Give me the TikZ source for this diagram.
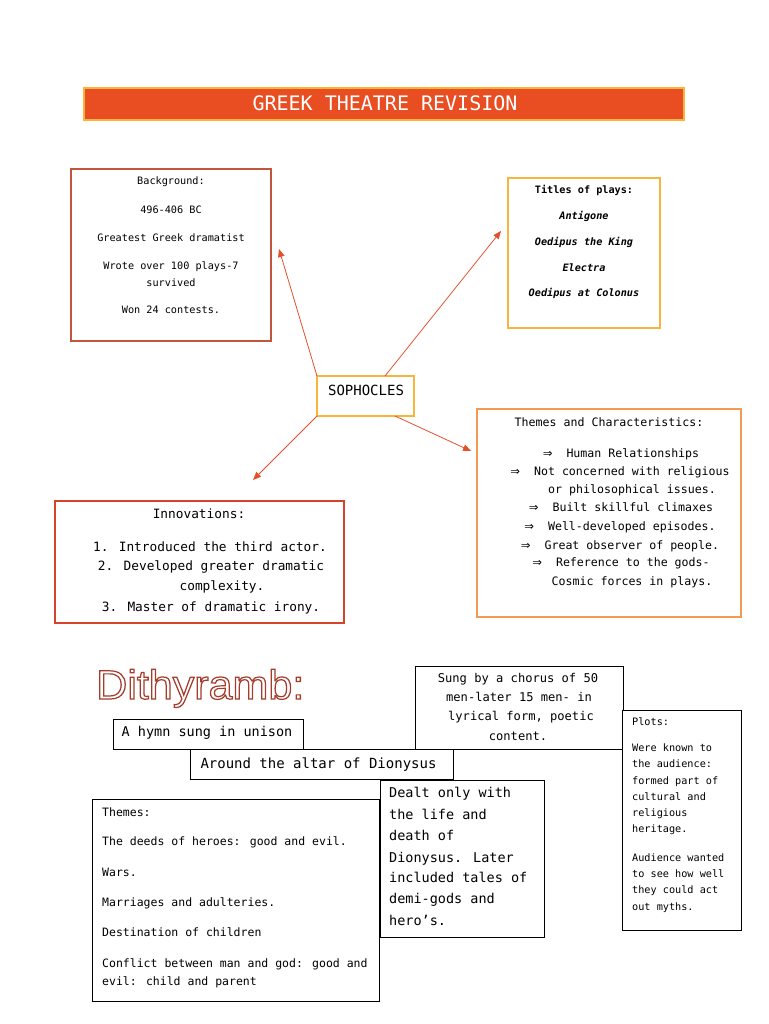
\documentclass[tikz,border=0pt]{standalone}
\usepackage{fontspec}
\setmainfont{DejaVu Sans Mono}
\newfontfamily\dithfont{Liberation Sans}
\newfontfamily\arrowfont{DejaVu Sans}
\usetikzlibrary{arrows.meta}
\definecolor{titlefill}{HTML}{E84E22}
\definecolor{titleborder}{HTML}{F9B338}
\definecolor{bgborder}{HTML}{C0563C}
\definecolor{yelborder}{HTML}{F7B53D}
\definecolor{themeborder}{HTML}{F59A52}
\definecolor{innovborder}{HTML}{D5432B}
\definecolor{arrowc}{HTML}{E5502C}
\definecolor{dithc}{HTML}{A43B2B}
\definecolor{ink}{HTML}{000000}
\newcommand\setfs[1]{\fontsize{#1}{#1}\selectfont}
\newcommand\dbl{{\arrowfont ⇒}}
\newcommand\outlinetext[1]{\special{pdf:literal direct 1 Tr 1.2 w}#1\special{pdf:literal direct 0 Tr}}
\begin{document}
\begin{tikzpicture}[x=1pt,y=-1pt,
  box/.style={draw, line width=1pt, fill=white, anchor=north west, inner sep=0pt, outer sep=0pt},
  tc/.style={anchor=base, inner sep=0pt, text=ink},
  tw/.style={anchor=base west, inner sep=0pt, text=ink},
  conn/.style={draw=arrowc, line width=0.75pt, -{Triangle[length=8pt,width=6.5pt]}, fill=arrowc}
]
\useasboundingbox (0,0) rectangle (768,1024);

% title
\node[box, draw=titleborder, fill=titlefill, line width=1.3pt, minimum width=600pt, minimum height=32pt] (title) at (84,88) {};
\node[anchor=base, inner sep=0pt, text=white, font=\setfs{20}] (titletxt) at (385,111) {GREEK THEATRE REVISION};

% background
\node[box, draw=bgborder, line width=1.1pt, minimum width=200pt, minimum height=172pt] (bg) at (71,169) {};
\begin{scope}[every node/.append style={font=\setfs{10.2}}]
\node[tc] (bg1) at (171,184.4) {Background:};
\node[tc] (bg2) at (171,213.4) {496-406 BC};
\node[tc] (bg3) at (171,241.4) {Greatest Greek dramatist};
\node[tc] (bg4) at (171,269.4) {Wrote over 100 plays-7};
\node[tc] (bg5) at (171,286.4) {survived};
\node[tc] (bg6) at (171,313.4) {Won 24 contests.};
\end{scope}

% titles of plays
\node[box, draw=yelborder, line width=1.1pt, minimum width=152pt, minimum height=150pt] (plays) at (508,178) {};
\begin{scope}[every node/.append style={font=\setfs{10.2}\bfseries}]
\node[tc] (pl1) at (584,193.4) {Titles of plays:};
\node[tc, font=\setfs{10.2}\bfseries\itshape] (pl2) at (584,219.4) {Antigone};
\node[tc, font=\setfs{10.2}\bfseries\itshape] (pl3) at (584,245.4) {Oedipus the King};
\node[tc, font=\setfs{10.2}\bfseries\itshape] (pl4) at (584,271.4) {Electra};
\node[tc, font=\setfs{10.2}\bfseries\itshape] (pl5) at (584,296.4) {Oedipus at Colonus};
\end{scope}

% sophocles
\node[box, draw=yelborder, line width=1.1pt, minimum width=97pt, minimum height=40pt] (soph) at (317,376) {};
\node[tc, font=\setfs{14}] (sophtxt) at (366,395.6) {SOPHOCLES};

% themes and characteristics
\node[box, draw=themeborder, line width=1.1pt, minimum width=264pt, minimum height=208pt] (tc) at (477,409) {};
\begin{scope}[every node/.append style={font=\setfs{11.6}}]
\node[tc] (tc0) at (609,426.8) {Themes and Characteristics:};
\node[tc] (tc1) at (621,457.8) {\dbl\ \ Human Relationships};
\node[tc] (tc2) at (620,475.8) {\dbl\ \ Not concerned with religious};
\node[tc] (tc3) at (632,493.8) {or philosophical issues.};
\node[tc] (tc4) at (621,511.8) {\dbl\ \ Built skillful climaxes};
\node[tc] (tc5) at (620,530.8) {\dbl\ \ Well-developed episodes.};
\node[tc] (tc6) at (620,549.8) {\dbl\ \ Great observer of people.};
\node[tc] (tc7) at (621,566.8) {\dbl\ \ Reference to the gods-};
\node[tc] (tc8) at (632,585.8) {Cosmic forces in plays.};
\end{scope}

% innovations
\node[box, draw=innovborder, line width=1.2pt, minimum width=289pt, minimum height=122pt] (innov) at (55,501) {};
\begin{scope}[every node/.append style={font=\setfs{12.8}}]
\node[tc] (in0) at (199,518.2) {Innovations:};
\node[tc] (in1) at (210,551.2) {1. Introduced the third actor.};
\node[tc] (in2) at (211,570.2) {2. Developed greater dramatic};
\node[tc] (in3) at (222,590.2) {complexity.};
\node[tc] (in4) at (211,611.2) {3. Master of dramatic irony.};
\end{scope}

% connectors
\coordinate (a1) at (279,249);
\coordinate (a2s) at (385,376);
\coordinate (a2) at (501,231);
\coordinate (a3) at (253,480);
\coordinate (a4s) at (395,416);
\coordinate (a4) at (471,451);
\draw[conn] (soph.north west) -- (a1);
\draw[conn] (a2s) -- (a2);
\draw[conn] (soph.south west) -- (a3);
\draw[conn] (a4s) -- (a4);

% Dithyramb
\node[anchor=base west, inner sep=0pt, text=dithc, font=\dithfont\setfs{41}, xscale=1.05] (dith) at (96,699) {\outlinetext{Dithyramb:}};

% lower boxes
\node[box, draw=ink, minimum width=190pt, minimum height=30pt] (hymn) at (113,719) {};
\node[tc, font=\setfs{13.5}] (hymntxt) at (207,736.5) {A hymn sung in unison};

\node[box, draw=ink, minimum width=263pt, minimum height=30pt] (altar) at (190,749) {};
\node[tc, font=\setfs{14}] (altartxt) at (318.5,768.6) {Around the altar of Dionysus};

\node[box, draw=ink, minimum width=208pt, minimum height=83pt] (sung) at (415,666) {};
\begin{scope}[every node/.append style={font=\setfs{12.1}}]
\node[tc] (su1) at (518,682) {Sung by a chorus of 50};
\node[tc] (su2) at (519,701) {men-later 15 men- in};
\node[tc] (su3) at (521,720) {lyrical form, poetic};
\node[tc] (su4) at (518,740) {content.};
\end{scope}

\node[box, draw=ink, minimum width=119pt, minimum height=220pt] (plots) at (622,710) {};
\begin{scope}[every node/.append style={font=\setfs{10.2}}]
\node[tw] (po1) at (632,725.4) {Plots:};
\node[tw] (po2) at (632,751.4) {Were known to};
\node[tw] (po3) at (632,767.4) {the audience:};
\node[tw] (po4) at (632,784.4) {formed part of};
\node[tw] (po5) at (632,800.4) {cultural and};
\node[tw] (po6) at (632,816.4) {religious};
\node[tw] (po7) at (632,832.4) {heritage.};
\node[tw] (po8) at (632,861.4) {Audience wanted};
\node[tw] (po9) at (632,877.4) {to see how well};
\node[tw] (po10) at (632,893.4) {they could act};
\node[tw] (po11) at (632,910.4) {out myths.};
\end{scope}

\node[box, draw=ink, minimum width=287pt, minimum height=202pt] (themes) at (92,799) {};
\begin{scope}[every node/.append style={font=\setfs{11.5}}]
\node[tw] (th1) at (102,816.8) {Themes:};
\node[tw] (th2) at (102,845.8) {The deeds of heroes: good and evil.};
\node[tw] (th3) at (102,876.8) {Wars.};
\node[tw] (th4) at (102,906.8) {Marriages and adulteries.};
\node[tw] (th5) at (102,936.8) {Destination of children};
\node[tw] (th6) at (102,967.8) {Conflict between man and god: good and};
\node[tw] (th7) at (102,985.8) {evil: child and parent};
\end{scope}

\node[box, draw=ink, minimum width=164pt, minimum height=157pt] (dealt) at (380,780) {};
\begin{scope}[every node/.append style={font=\setfs{13.5}}]
\node[tw] (de1) at (389,797.5) {Dealt only with};
\node[tw] (de2) at (389,819.5) {the life and};
\node[tw] (de3) at (389,840.5) {death of};
\node[tw] (de4) at (389,862.5) {Dionysus. Later};
\node[tw] (de5) at (389,882.5) {included tales of};
\node[tw] (de6) at (389,903.5) {demi-gods and};
\node[tw] (de7) at (389,925.5) {hero’s.};
\end{scope}
\end{tikzpicture}
\end{document}
